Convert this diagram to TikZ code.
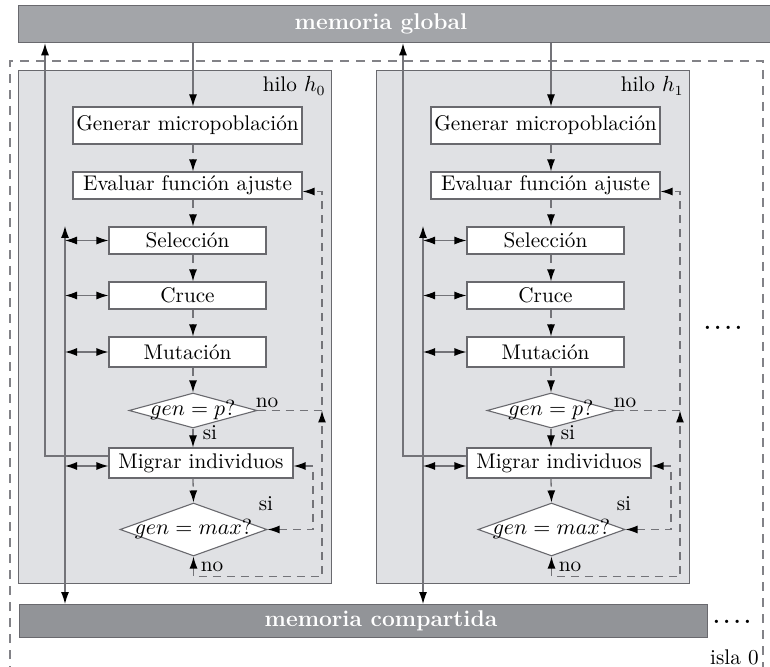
\documentclass[tikz,border=0pt]{standalone}
\usetikzlibrary{arrows.meta,shapes.geometric,calc}
\definecolor{barA}{RGB}{163,165,169}
\definecolor{barB}{RGB}{146,148,152}
\definecolor{hilofill}{RGB}{224,225,228}
\definecolor{edge}{RGB}{105,105,110}
\definecolor{flow}{RGB}{115,115,120}
\definecolor{isla}{RGB}{130,130,135}
\begin{document}
\begin{tikzpicture}[x=0.5pt,y=-0.5pt,
  every node/.style={font=\fontsize{10.6}{12.7}\selectfont, inner sep=0pt},
  tip/.style={-{Latex[length=6pt,width=4pt,color=black]}},
  tips/.style={{Latex[length=6pt,width=4pt,color=black]}-{Latex[length=6pt,width=4pt,color=black]}},
  solidln/.style={draw=flow, line width=0.55pt},
  dashln/.style={draw=flow, line width=0.65pt, dash pattern=on 4pt off 3pt},
  box/.style={draw=edge, fill=white, line width=0.55pt},
  dia/.style={diamond, draw=edge, fill=white, line width=0.55pt},
  hilobox/.style={draw=edge, fill=hilofill, line width=0.65pt},
  bar/.style={draw=edge, line width=0.65pt},
  bartext/.style={font=\fontsize{11.4}{13}\selectfont\bfseries, text=white}]
\clip (0,0) rectangle (770,667);
% islands dashed frame
\draw[draw=isla, line width=0.6pt, dash pattern=on 4.5pt off 3.5pt] (10,675) -- (10,61) -- (763,61) -- (763,675);
% memory bars
\node[bar, fill=barA, anchor=north west, minimum width=380pt, minimum height=18.5pt] (glob) at (18,5) {};
\node[bartext] (globt) at (381,23.5) {memoria global};
\node[bar, fill=barB, anchor=north west, minimum width=344pt, minimum height=16.5pt] (comp) at (19,604) {};
\node[bartext] (compt) at (381,620.5) {memoria compartida};
\foreach \i in {0,1}{
\begin{scope}[xshift=\i*179pt]
  \node[hilobox, anchor=north west, minimum width=156.5pt, minimum height=256.5pt] (h\i) at (18,70) {};
  \node[anchor=east] (lab\i) at (326,86) {hilo $h_{\i}$};
  \node[box, minimum width=114.5pt, minimum height=18.5pt] (g\i) at (187.5,125.5) {Generar micropoblación};
  \node[box, minimum width=114.5pt, minimum height=13.5pt] (e\i) at (187.5,185.5) {Evaluar función ajuste};
  \node[box, minimum width=78.5pt, minimum height=13.5pt] (s\i) at (187.5,240.5) {Selección};
  \node[box, minimum width=78.5pt, minimum height=13.5pt] (c\i) at (187.5,295.5) {Cruce};
  \node[box, minimum width=78.5pt, minimum height=15pt] (m\i) at (187.5,352) {Mutación};
  \node[dia, minimum width=64pt, minimum height=17.5pt, label=center:{$gen=p?$}] (dp\i) at (193,410.5) {};
  \node[box, minimum width=92pt, minimum height=15pt] (mi\i) at (201,463) {Migrar individuos};
  \node[dia, minimum width=73.5pt, minimum height=26.5pt, label=center:{$gen=max?$}] (dm\i) at (193.5,529.5) {};
  \coordinate (fl\i) at (193,0);
  \coordinate (lv\i) at (65,226);
  \coordinate (lu\i) at (45,0);
  \coordinate (ra\i) at (322,0);
  \coordinate (rb\i) at (313,0);
  % main flow
  \draw[solidln, tip] (glob.south -| fl\i) -- (g\i.north -| fl\i);
  \draw[dashln, tip] (g\i.south -| fl\i) -- (e\i.north -| fl\i);
  \draw[dashln, tip] (e\i.south -| fl\i) -- (s\i.north -| fl\i);
  \draw[dashln, tip] (s\i.south -| fl\i) -- (c\i.north -| fl\i);
  \draw[dashln, tip] (c\i.south -| fl\i) -- (m\i.north -| fl\i);
  \draw[dashln, tip] (m\i.south -| fl\i) -- (dp\i.north);
  \draw[solidln, tip] (dp\i.south) -- (mi\i.north -| fl\i);
  \draw[dashln, tip] (mi\i.south -| fl\i) -- (dm\i.north);
  % shared memory access
  \draw[solidln, tips] (lv\i) -- (lv\i |- comp.north);
  \draw[solidln, tips] (lv\i |- s\i.west) -- (s\i.west);
  \draw[solidln, tips] (lv\i |- c\i.west) -- (c\i.west);
  \draw[solidln, tips] (lv\i |- m\i.west) -- (m\i.west);
  \draw[solidln, tips] ([yshift=-1.5pt]mi\i.west -| lv\i) -- ([yshift=-1.5pt]mi\i.west);
  \draw[solidln, tip] ([yshift=3.5pt]mi\i.west) -| (lu\i |- glob.south);
  % loops
  \coordinate (ev\i) at ([yshift=-3pt]e\i.east);
  \draw[dashln, tip] (dp\i.east) -| (ra\i |- ev\i) -- (ev\i);
  \draw[dashln, tips] (dm\i.south) -- ++(0,20) -| (ra\i |- dp\i.east);
  \draw[dashln, tips] ([yshift=-1.5pt]mi\i.east) -| (rb\i |- dm\i.east) -- (dm\i.east);
  \node (no\i) at (267,403) {no};
  \node (si\i) at (210,433) {si};
  \node (sib\i) at (266,504) {si};
  \node (nob\i) at (212,567) {no};
\end{scope}
}
\node (dotsA) at (723,328) {\textbf{.\kern1.8pt.\kern1.8pt.\kern1.8pt.}};
\node (dotsB) at (732,622) {\textbf{.\kern1.8pt.\kern1.8pt.\kern1.8pt.}};
\node[anchor=east] (isla0) at (759,657) {isla 0};
\end{tikzpicture}
\end{document}
